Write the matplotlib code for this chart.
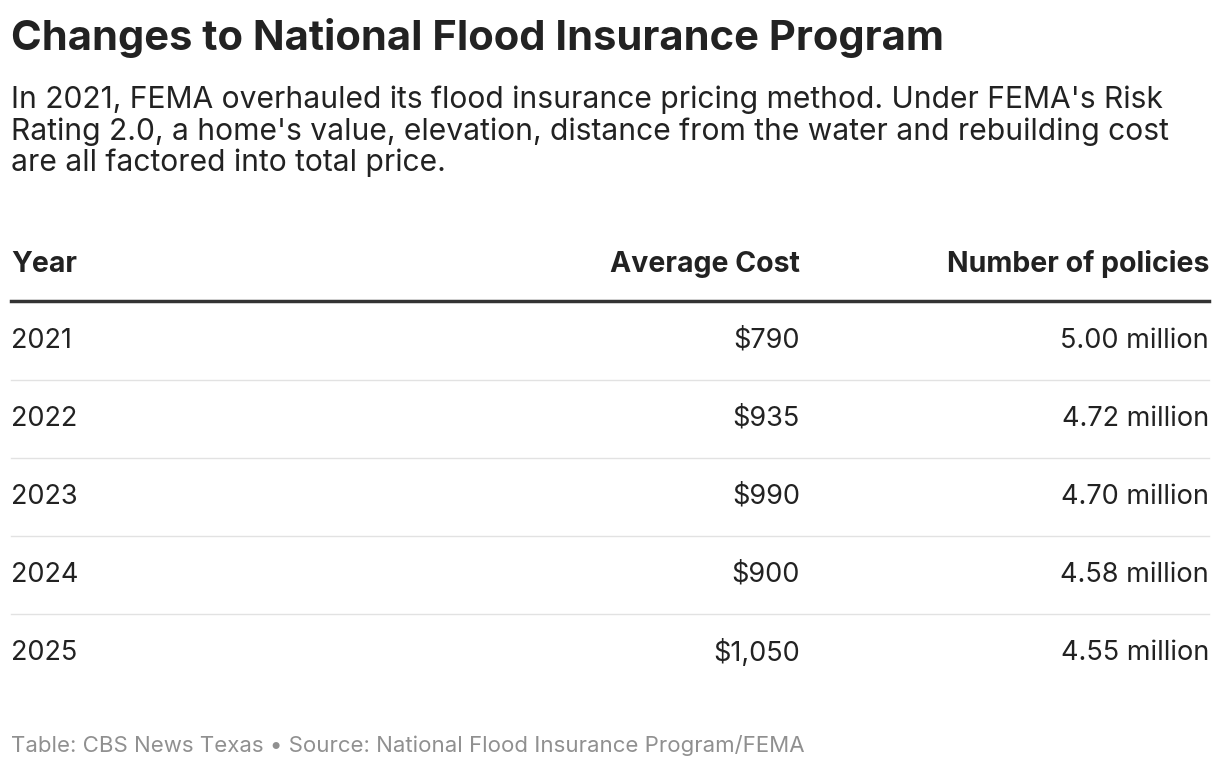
import matplotlib.pyplot as plt

years = ['2021', '2022', '2023', '2024', '2025']
avg_cost = ['$790', '$935', '$990', '$900', '$1,050']
policies = ['5.00 million', '4.72 million', '4.70 million', '4.58 million', '4.55 million']
headers = ['Year', 'Average Cost', 'Number of policies']

W, H = 1220, 772
plt.rcParams['font.family'] = ['Inter', 'DejaVu Sans']
fig = plt.figure(figsize=(W / 100, H / 100), dpi=100)
ax = fig.add_axes([0, 0, 1, 1])
ax.set_xlim(0, W)
ax.set_ylim(H, 0)
ax.axis('off')

dark = '#222222'
ax.text(11, 38, 'Changes to National Flood Insurance Program', fontsize=30, fontweight='bold',
        color=dark, va='center')
sub = ("In 2021, FEMA overhauled its flood insurance pricing method. Under FEMA's Risk\n"
       "Rating 2.0, a home's value, elevation, distance from the water and rebuilding cost\n"
       "are all factored into total price.")
ax.text(11, 86, sub, fontsize=21.6, color=dark, va='top', linespacing=1.12)

x_year, x_cost, x_pol = 11, 800, 1209
ax.text(x_year, 264, headers[0], fontsize=20.5, fontweight='bold', color=dark, va='center')
ax.text(x_cost, 264, headers[1], fontsize=20.5, fontweight='bold', color=dark, va='center', ha='right')
ax.text(x_pol, 264, headers[2], fontsize=20.5, fontweight='bold', color=dark, va='center', ha='right')
ax.plot([11, 1209], [301, 301], color='#333333', linewidth=2.5)

for i in range(len(years)):
    y = 341 + i * 78
    ax.text(x_year, y, years[i], fontsize=19.5, color=dark, va='center')
    ax.text(x_cost, y, avg_cost[i], fontsize=19.5, color=dark, va='center', ha='right')
    ax.text(x_pol, y, policies[i], fontsize=19.5, color=dark, va='center', ha='right')
    if i < len(years) - 1:
        ax.plot([11, 1209], [y + 39, y + 39], color='#e2e2e2', linewidth=1)

ax.text(11, 746, 'Table: CBS News Texas \u2022 Source: National Flood Insurance Program/FEMA',
        fontsize=16, color='#909090', va='center')

fig.savefig('out.png', dpi=100)
